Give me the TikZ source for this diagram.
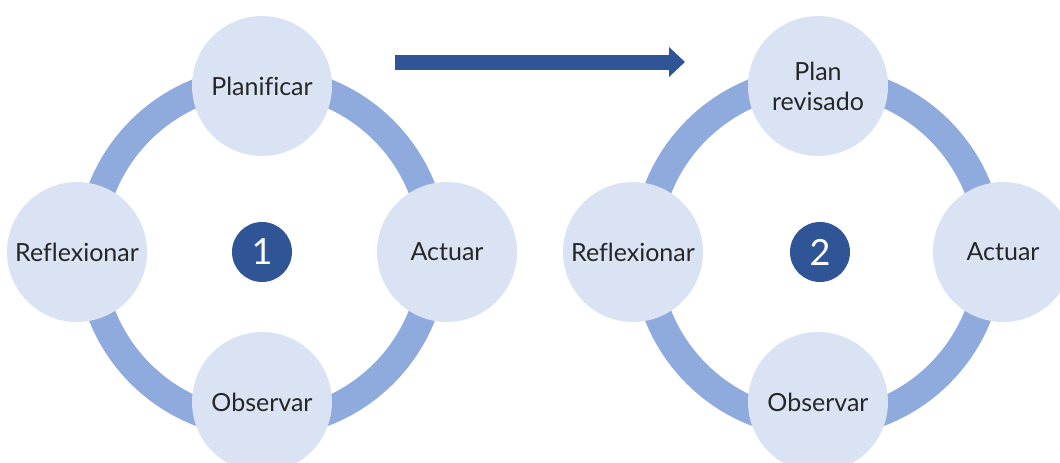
\documentclass[tikz,border=0pt]{standalone}
\usepackage{fontspec}
\setmainfont[Ligatures=NoCommon]{Lato}
\usetikzlibrary{arrows.meta}
\definecolor{ringblue}{HTML}{8FAADC}
\definecolor{paleblue}{HTML}{DAE3F3}
\definecolor{darkblue}{HTML}{2F5597}
\definecolor{textgray}{HTML}{262626}
\tikzset{
  stage/.style={circle, fill=paleblue, minimum size=140pt, inner sep=0pt, align=center, text=textgray, font=\fontsize{25}{30}\selectfont},
  badge/.style={circle, fill=darkblue, minimum size=60pt, inner sep=0pt, text=white, font=\fontsize{36}{36}\selectfont},
  ring/.style={draw=ringblue, line width=28pt}
}
\begin{document}
\begin{tikzpicture}[x=1pt, y=-1pt]
\useasboundingbox (0,0) rectangle (1060,463);
\coordinate (c1) at (262,252);
\coordinate (c2) at (818,252);
\draw[ring] (c1) circle[radius=172pt];
\draw[ring] (c2) circle[radius=172pt];
\node[stage] (plan1) at (262,86) {Planificar};
\node[stage] (act1) at (447,252) {Actuar};
\node[stage] (obs1) at (262,402) {Observar};
\node[stage] (ref1) at (77,252) {Reflexionar};
\node[badge] (num1) at (c1) {1};
\node[stage] (plan2) at (818,86) {Plan\\revisado};
\node[stage] (act2) at (1003,252) {Actuar};
\node[stage] (obs2) at (818,402) {Observar};
\node[stage] (ref2) at (633,252) {Reflexionar};
\node[badge] (num2) at (820,252) {2};
\coordinate (tail) at (395,62);
\coordinate (head) at (685,62);
\draw[darkblue, line width=15pt, -{Triangle[length=16pt, width=29pt]}] (tail) -- (head);
\end{tikzpicture}
\end{document}
